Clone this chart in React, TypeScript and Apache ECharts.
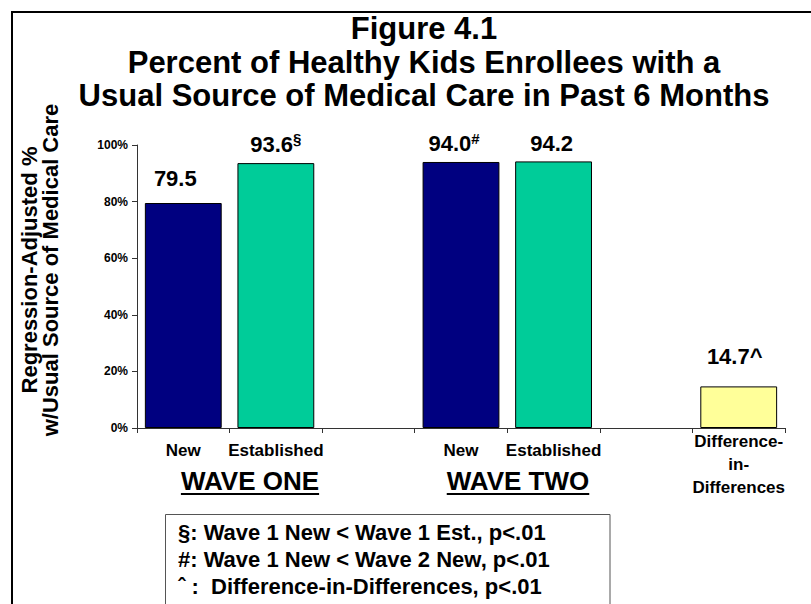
import React, { useEffect, useRef } from "react";
import * as echarts from "echarts";

const FONT = "'Liberation Sans', Arial, Helvetica, sans-serif";

const titleLines = [
  "Figure 4.1",
  "Percent of Healthy Kids Enrollees with a",
  "Usual Source of Medical Care in Past 6 Months",
];
const yAxisTitle = ["Regression-Adjusted %", "w/Usual Source of Medical Care"];
const categories = ["New", "Established", "", "New", "Established", "", "Difference-\nin-\nDifferences"];
const values: (number | null)[] = [79.5, 93.6, null, 94.0, 94.2, null, 14.7];
const valueLabels = ["79.5", "93.6{sup|§}", "", "94.0{sup|#}", "94.2", "", "14.7^"];
const yMin = 0;
const yMax = 100;
const yInterval = 20;
const waveLabels = ["WAVE ONE", "WAVE TWO"];
const notes = [
  "§: Wave 1 New < Wave 1 Est., p<.01",
  "#: Wave 1 New < Wave 2 New, p<.01",
  "ˆ :  Difference-in-Differences, p<.01",
];

// styles (not data)
const barColors = ["#000080", "#00CC99", "#000080", "#000080", "#00CC99", "#000080", "#FFFF99"];
const labelOffsets: [number, number][] = [[-8, -12], [0, -6], [0, 0], [-7, -5], [-2, -5], [0, 0], [-4, -17]];

function textWidth(text: string, font: string): number {
  const c = document.createElement("canvas").getContext("2d");
  if (!c) return text.length * 14;
  c.font = font;
  return c.measureText(text).width;
}

export default function App() {
  const ref = useRef<HTMLDivElement>(null);
  useEffect(() => {
    if (!ref.current) return;
    const chart = echarts.init(ref.current, null, { renderer: "svg" });
    const waveFont = `bold 26px ${FONT}`;
    const waveCenters = [250, 518];
    const waveY = 481;
    const waveGraphics: any[] = [];
    waveLabels.forEach((w, i) => {
      const wd = textWidth(w, waveFont);
      waveGraphics.push({
        type: "text",
        x: waveCenters[i],
        y: waveY,
        style: {
          text: w,
          fontSize: 26,
          fontWeight: "bold",
          fontFamily: FONT,
          fill: "#000",
          align: "center",
          verticalAlign: "middle",
        },
      });
      waveGraphics.push({
        type: "line",
        shape: { x1: waveCenters[i] - wd / 2, y1: 494, x2: waveCenters[i] + wd / 2, y2: 494 },
        style: { stroke: "#000", lineWidth: 2 },
      });
    });

    chart.setOption({
      animation: false,
      backgroundColor: "#fff",
      title: {
        text: titleLines.join("\n"),
        left: 424,
        top: 12,
        textAlign: "center",
        padding: 0,
        textStyle: {
          fontSize: 31,
          fontWeight: "bold",
          lineHeight: 33.5,
          color: "#000",
          fontFamily: FONT,
        },
      },
      grid: { left: 137, right: 26, top: 145, bottom: 176, containLabel: false },
      xAxis: {
        type: "category",
        data: categories,
        axisLine: { show: true, lineStyle: { color: "#333", width: 1 } },
        axisTick: { show: true, length: 5, interval: 0, lineStyle: { color: "#333" } },
        axisLabel: {
          interval: 0,
          margin: 2,
          color: "#000",
          fontSize: 17,
          fontWeight: "bold",
          fontFamily: FONT,
          lineHeight: 23,
          formatter: (v: string) => (v.indexOf("\n") >= 0 ? v : `{p|${v}}`),
          rich: {
            p: { fontSize: 17, fontWeight: "bold", fontFamily: FONT, lineHeight: 40, color: "#000" },
          },
        },
      },
      yAxis: {
        type: "value",
        min: yMin,
        max: yMax,
        interval: yInterval,
        axisLine: { show: true, lineStyle: { color: "#333", width: 1 } },
        axisTick: { show: true, length: 5, lineStyle: { color: "#333" } },
        splitLine: { show: false },
        axisLabel: {
          formatter: "{value}%",
          margin: 9,
          color: "#000",
          fontSize: 12,
          fontWeight: "bold",
          fontFamily: FONT,
        },
      },
      series: [
        {
          type: "bar",
          barCategoryGap: "17%",
          data: values.map((v, i) =>
            v == null
              ? "-"
              : {
                  value: v,
                  itemStyle: { color: barColors[i], borderColor: "#000", borderWidth: 1 },
                  label: { offset: labelOffsets[i] },
                }
          ),
          label: {
            show: true,
            position: "top",
            distance: 0,
            formatter: (p: any) => valueLabels[p.dataIndex],
            color: "#000",
            fontSize: 22,
            fontWeight: "bold",
            fontFamily: FONT,
            lineHeight: 26,
            rich: {
              sup: {
                fontSize: 15,
                fontWeight: "bold",
                fontFamily: FONT,
                color: "#000",
                verticalAlign: "top",
                lineHeight: 15,
              },
            },
          },
        },
      ],
      graphic: [
        {
          type: "rect",
          shape: { x: 12, y: 12, width: 900, height: 700 },
          style: { fill: "none", stroke: "#000", lineWidth: 2 },
          silent: true,
        },
        {
          type: "text",
          x: 39.5,
          y: 270,
          rotation: Math.PI / 2,
          style: {
            text: yAxisTitle.join("\n"),
            fontSize: 22,
            fontWeight: "bold",
            fontFamily: FONT,
            lineHeight: 21,
            fill: "#000",
            align: "center",
            verticalAlign: "middle",
          },
        },
        ...waveGraphics,
        {
          type: "rect",
          shape: { x: 165.5, y: 514.5, width: 444.5, height: 200 },
          style: { fill: "none", stroke: "#555", lineWidth: 1 },
          silent: true,
        },
        {
          type: "text",
          x: 178,
          y: 518.5,
          style: {
            text: notes.join("\n"),
            fontSize: 22,
            fontWeight: "bold",
            fontFamily: FONT,
            lineHeight: 27,
            fill: "#000",
            align: "left",
            verticalAlign: "top",
          },
        },
      ],
    });
    return () => chart.dispose();
  }, []);
  return (
    <div
      ref={ref}
      style={{ position: "fixed", left: 0, top: 0, width: 811, height: 604, background: "#fff" }}
    />
  );
}
